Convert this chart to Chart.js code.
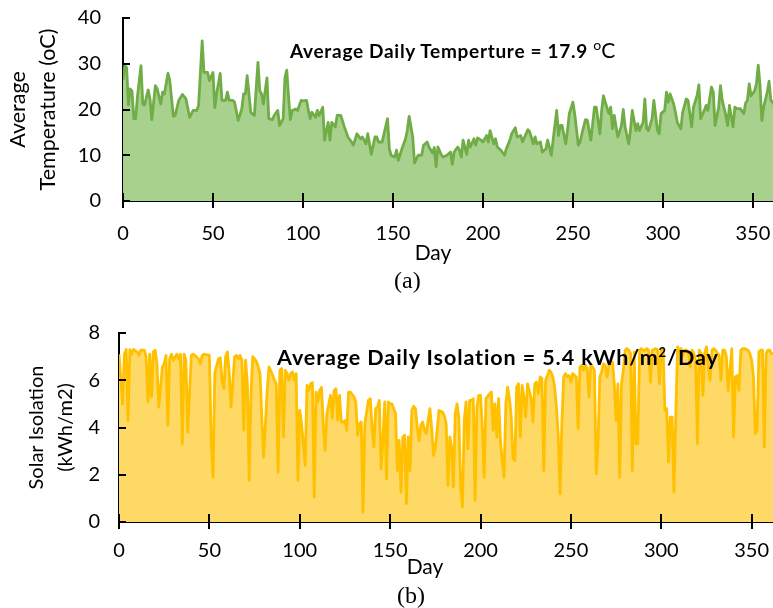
<!DOCTYPE html>
<html>
<head>
<meta charset="utf-8">
<script src="https://cdn.jsdelivr.net/npm/chart.js@4.4.1/dist/chart.umd.min.js"></script>
<style>
  body { margin: 0; background: #fff; }
  #page { position: relative; width: 773px; height: 608px; overflow: hidden; font-family: Lato, sans-serif; }
  canvas { position: absolute; left: 0; }
  .note { position: absolute; white-space: nowrap; font-weight: bold; line-height: 1; color: #000; }
  .cap { position: absolute; font-family: "Liberation Serif", serif; font-size: 24px; line-height: 1; color: #000; }
  .day { position: absolute; font-size: 21px; line-height: 1; color: #000; transform: translateX(-50%); }
</style>
</head>
<body>
<div id="page">
  <canvas id="chartA" width="773" height="265" style="top:0"></canvas>
  <canvas id="chartB" width="773" height="285" style="top:300px"></canvas>
  <div class="note" style="left:290px; top:37.5px; font-size:19px; letter-spacing:0.7px">Average Daily Temperture = 17.9 <span style="font-weight:normal; font-size:21px; letter-spacing:0"><sup style="font-size:14px">o</sup>C</span></div>
  <div class="note" style="left:277px; top:346px; font-size:21.5px; letter-spacing:0.9px">Average Daily Isolation = 5.4 kWh/m<sup style="font-size:13px">2</sup>/Day</div>
  <div class="day" style="left:433px; top:241px">Day</div>
  <div class="day" style="left:425px; top:555px">Day</div>
  <div class="cap" style="left:394px; top:268px">(a)</div>
  <div class="cap" style="left:397px; top:583px">(b)</div>
</div>
<script>
// (a) average daily temperature
const tempDays = [0, 1, 2, 3, 4, 5, 6, 7, 8, 10, 11, 12, 14, 15, 16, 18, 19, 21, 22, 23, 25, 26, 28, 29, 31, 33, 35, 37, 39, 41, 42, 44, 45, 47, 48, 50, 51, 52, 54, 55, 57, 58, 59, 61, 62, 64, 66, 67, 68, 69, 71, 72, 73, 75, 76, 77, 78, 80, 81, 83, 84, 86, 87, 89, 90, 91, 92, 93, 94, 95, 96, 97, 99, 100, 102, 103, 104, 105, 107, 108, 109, 111, 112, 114, 115, 116, 118, 119, 121, 123, 125, 127, 128, 130, 132, 133, 135, 136, 138, 140, 141, 142, 144, 147, 148, 149, 151, 152, 153, 155, 157, 158, 159, 161, 162, 164, 166, 167, 169, 170, 172, 173, 174, 175, 177, 178, 180, 182, 183, 184, 186, 187, 188, 189, 191, 192, 193, 195, 196, 197, 199, 200, 202, 203, 204, 206, 207, 208, 210, 212, 213, 215, 216, 218, 219, 221, 222, 223, 225, 226, 228, 229, 230, 232, 233, 235, 236, 238, 239, 241, 242, 243, 244, 246, 247, 248, 250, 251, 253, 254, 255, 257, 258, 260, 262, 263, 265, 266, 267, 268, 270, 271, 272, 273, 274, 275, 277, 278, 279, 281, 282, 283, 285, 286, 287, 289, 290, 291, 292, 294, 295, 297, 298, 299, 301, 302, 303, 304, 306, 307, 308, 310, 311, 313, 314, 316, 317, 319, 320, 321, 323, 324, 325, 327, 328, 329, 331, 332, 333, 335, 336, 337, 339, 340, 341, 343, 345, 346, 347, 348, 349, 351, 352, 353, 354, 355, 356, 358, 359, 360, 361, 362];
const tempValues = [26.5, 29.6, 29.2, 21, 24.5, 24, 18, 18, 22.7, 29.6, 21.2, 21, 24.3, 22.3, 17.8, 25.2, 24.5, 21.2, 23.8, 23.4, 27.9, 26.3, 18.5, 18.7, 22, 23.3, 22.3, 18.3, 19.8, 19.8, 20.9, 35, 28.1, 28.1, 26.3, 28.1, 20.4, 23.4, 27.9, 22, 22, 23.8, 22, 22, 21.6, 17.6, 20.1, 23.4, 23.4, 27.4, 19.4, 19, 18.7, 30.3, 24.1, 23.4, 21.2, 26.9, 18, 17.8, 18.7, 19.8, 16.5, 18, 27, 28.6, 22.7, 17.8, 19.8, 19.9, 20.1, 19.8, 22, 21.9, 22, 19.8, 18, 19.4, 18.3, 19.8, 18.7, 20.5, 13.3, 17.2, 13.3, 17.2, 16.2, 18.7, 18.7, 16.2, 14, 12.9, 12.2, 14.7, 13.6, 14, 12.5, 14.7, 10.2, 14, 14, 12.9, 12.9, 18, 11.4, 10, 9.6, 11.1, 8.9, 11.4, 13.6, 15.4, 18.5, 14, 8.3, 10, 10, 12.2, 12.9, 11.8, 10.5, 11.7, 7.5, 11.8, 10, 9.6, 10, 10.7, 8, 10.7, 11.8, 11.1, 9.6, 13.3, 10.2, 13.3, 11.8, 13.6, 12.2, 13.8, 13.3, 12.9, 14.3, 12.9, 15.4, 12.5, 13.6, 11.8, 11.1, 10, 11.4, 13.3, 14.7, 16, 14, 14.3, 12.9, 13.8, 15.6, 15.1, 12.5, 14, 12.5, 12.9, 10.7, 11.4, 13.3, 10, 13.3, 19.8, 14.3, 16.5, 16.5, 12.5, 15.4, 19.1, 21.6, 19.1, 12.2, 12.9, 14.7, 17.8, 17.7, 13.3, 20.5, 20.5, 14.7, 19.8, 23, 21.6, 19.1, 20.5, 15.8, 18.7, 16.2, 14, 16.5, 20, 16.2, 12.5, 15.4, 19.8, 15.4, 16.9, 15.4, 17.2, 22.3, 15.8, 15.4, 18, 22, 15.4, 14.7, 19.1, 19.8, 23.8, 21.6, 23.4, 21.2, 19.4, 17.2, 15.8, 19.4, 22.3, 22, 16.2, 20.5, 23, 25.4, 18, 19.8, 20.9, 19.8, 24.9, 23.8, 16.5, 20.5, 25.2, 22, 18.7, 16.5, 20.9, 16.2, 20.5, 20.2, 20.2, 19.1, 21.4, 22, 25.6, 23, 24.1, 25.6, 29.7, 25.2, 17.6, 20.5, 23.8, 26.2, 22, 21.6, 21];

// (b) daily solar isolation, kWh/m2
const solarDays = [0, 2, 3, 4, 5, 6, 7, 8, 10, 11, 12, 14, 15, 16, 17, 18, 19, 20, 21, 22, 24, 25, 26, 27, 28, 29, 30, 32, 33, 34, 35, 36, 37, 38, 40, 41, 42, 44, 45, 46, 47, 49, 50, 51, 52, 53, 55, 56, 57, 58, 59, 60, 61, 62, 64, 65, 66, 67, 68, 69, 70, 71, 72, 73, 74, 76, 77, 78, 79, 80, 82, 83, 84, 86, 87, 88, 89, 90, 91, 92, 93, 94, 95, 96, 97, 98, 99, 100, 101, 103, 104, 105, 106, 107, 108, 109, 110, 111, 112, 113, 114, 115, 117, 118, 119, 120, 121, 122, 123, 124, 125, 126, 127, 128, 130, 131, 132, 133, 134, 135, 136, 138, 139, 140, 141, 142, 143, 144, 145, 146, 147, 148, 149, 150, 151, 153, 154, 155, 156, 157, 158, 159, 160, 161, 162, 163, 164, 165, 166, 167, 168, 169, 170, 171, 172, 173, 174, 175, 176, 177, 179, 180, 181, 182, 183, 184, 185, 186, 187, 188, 189, 190, 191, 192, 193, 194, 195, 196, 197, 198, 199, 200, 201, 202, 203, 205, 206, 207, 208, 209, 210, 211, 212, 213, 214, 215, 216, 217, 218, 219, 220, 221, 222, 223, 224, 225, 226, 228, 229, 230, 231, 232, 233, 234, 235, 236, 237, 238, 239, 240, 241, 242, 243, 244, 245, 246, 247, 248, 249, 250, 251, 253, 254, 255, 256, 257, 258, 259, 260, 261, 262, 263, 264, 265, 266, 267, 268, 269, 270, 271, 272, 273, 274, 275, 276, 277, 278, 279, 280, 281, 282, 283, 284, 285, 286, 287, 288, 289, 290, 291, 292, 293, 294, 295, 297, 298, 299, 300, 301, 302, 303, 304, 305, 306, 307, 308, 309, 310, 311, 312, 313, 314, 315, 316, 317, 318, 319, 320, 321, 322, 323, 324, 325, 326, 327, 328, 329, 330, 332, 333, 334, 335, 336, 337, 338, 339, 340, 341, 342, 343, 344, 345, 346, 348, 349, 350, 351, 352, 353, 354, 355, 356, 357, 358, 359, 360, 361, 362];
const solarValues = [7.1, 5.0, 7.1, 7.3, 4.3, 7.3, 7.1, 7.3, 7.2, 7.05, 7.27, 7.27, 7.0, 5.08, 7.1, 5.3, 7.2, 7.27, 6.7, 4.86, 6.56, 6.7, 7.05, 4.1, 6.9, 7.1, 6.85, 7.1, 6.9, 7.1, 3.3, 7.1, 6.85, 3.8, 7.05, 7.1, 7.05, 6.9, 6.7, 7.05, 7.1, 7.07, 7.05, 3.45, 1.9, 6.3, 6.9, 6.95, 6.0, 5.65, 7.0, 7.2, 6.3, 4.86, 7.0, 7.05, 6.9, 7.05, 6.85, 3.88, 6.85, 5.9, 1.76, 5.43, 7.0, 6.8, 6.56, 6.3, 4.44, 2.75, 5.57, 6.56, 6.4, 6.0, 5.85, 2.1, 6.42, 6.5, 3.6, 6.42, 6.28, 6.0, 6.28, 6.35, 6.0, 6.28, 1.76, 4.72, 4.16, 2.4, 5.78, 5.57, 5.85, 5.9, 1.05, 5.5, 5.08, 5.57, 5.7, 4.16, 3.03, 4.58, 5.36, 4.4, 5.57, 5.64, 4.3, 5.36, 4.23, 4.23, 4.3, 3.88, 5.5, 5.5, 5.29, 5.08, 3.67, 4.16, 4.23, 0.42, 4.16, 5.15, 5.22, 4.02, 3.17, 4.8, 4.86, 5.15, 2.25, 3.45, 5.08, 1.83, 5.08, 5.0, 5.0, 4.58, 2.18, 3.45, 1.26, 3.6, 3.67, 0.77, 3.6, 2.18, 4.72, 4.9, 4.8, 4.02, 3.45, 4.1, 4.23, 3.88, 3.74, 4.3, 4.8, 3.95, 2.82, 3.17, 3.88, 4.72, 4.65, 4.5, 4.16, 1.55, 3.6, 3.17, 1.48, 4.58, 5.0, 4.44, 1.48, 0.63, 4.3, 5.08, 3.1, 5.15, 5.15, 5.22, 0.91, 4.86, 5.36, 5.36, 4.02, 1.9, 5.22, 5.43, 5.5, 3.88, 5.0, 3.6, 5.22, 3.45, 2.6, 1.9, 5.0, 5.71, 5.22, 4.44, 2.68, 2.6, 5.71, 5.85, 3.6, 5.78, 5.29, 4.44, 5.85, 5.22, 4.23, 5.85, 5.92, 5.43, 6.14, 6.07, 2.18, 6.0, 6.2, 6.42, 6.35, 6.14, 5.71, 4.86, 3.67, 1.19, 4.16, 6.14, 6.28, 6.14, 6.2, 5.92, 6.28, 6.14, 3.95, 6.56, 6.63, 6.42, 6.63, 6.5, 5.29, 6.63, 6.56, 6.42, 2.04, 3.31, 6.14, 6.35, 6.7, 6.63, 6.14, 6.63, 6.7, 6.77, 5.85, 4.3, 5.85, 1.9, 5.85, 6.42, 7.27, 7.34, 7.27, 7.13, 2.18, 7.2, 3.31, 3.31, 7.27, 7.34, 7.27, 7.27, 7.34, 7.27, 5.92, 7.27, 7.34, 7.27, 5.85, 7.27, 7.34, 4.72, 4.8, 2.54, 4.44, 4.44, 1.26, 4.44, 7.41, 7.27, 7.34, 7.05, 7.27, 7.27, 7.13, 6.56, 7.27, 7.13, 6.84, 3.31, 7.27, 7.13, 5.36, 7.13, 7.41, 6.63, 6.0, 7.27, 7.34, 7.27, 7.05, 6.0, 7.27, 7.27, 7.0, 5.57, 6.42, 7.34, 3.6, 6.14, 6.2, 5.57, 7.27, 7.34, 7.34, 7.27, 7.13, 6.84, 6.14, 3.74, 3.88, 7.2, 7.27, 7.27, 3.17, 7.13, 7.27, 7.27, 7.13, 7.13];

// short black tick marks: x ticks cross the axis, y ticks point inwards
const axisMarks = {
  id: 'axisMarks',
  afterDraw(chart) {
    const {ctx, chartArea, scales} = chart;
    ctx.save();
    ctx.strokeStyle = '#000';
    ctx.lineWidth = 2;
    ctx.beginPath();
    scales.x.ticks.forEach((t, i) => {
      const px = Math.round(scales.x.getPixelForTick(i));
      ctx.moveTo(px, chartArea.bottom - 8);
      ctx.lineTo(px, chartArea.bottom + 7);
    });
    scales.y.ticks.forEach((t, i) => {
      const py = Math.round(scales.y.getPixelForTick(i));
      ctx.moveTo(chartArea.left, py);
      ctx.lineTo(chartArea.left + 7, py);
    });
    ctx.stroke();
    ctx.restore();
  }
};

function makePanel(id, days, values, p) {
  const tickFont = {family: 'Lato', size: 20};
  return new Chart(document.getElementById(id), {
    type: 'line',
    data: {
      datasets: [{
        data: days.map((d, i) => ({x: d, y: values[i]})),
        borderColor: p.line,
        backgroundColor: p.fill,
        borderWidth: 2.8,
        borderJoinStyle: 'round',
        fill: 'origin',
        pointRadius: 0,
        tension: 0,
        clip: {left: 0, top: 2, right: 2, bottom: 0}
      }]
    },
    options: {
      responsive: false,
      animation: false,
      devicePixelRatio: 1,
      layout: {padding: {top: p.top, left: 0, right: 0, bottom: 0}},
      plugins: {legend: {display: false}, tooltip: {enabled: false}},
      scales: {
        x: {
          type: 'linear', min: 0, max: p.xMax, z: 1,
          grid: {display: false, drawTicks: false},
          border: {display: true, color: '#000', width: 2},
          ticks: {stepSize: 50, includeBounds: false, padding: p.xPad, color: '#000', font: tickFont, maxRotation: 0},
          afterFit(s) { s.height = p.xH; s.paddingLeft = 0; s.paddingRight = 0; }
        },
        y: {
          min: 0, max: p.yMax, z: 1,
          grid: {display: false, drawTicks: false},
          border: {display: true, color: '#000', width: 2},
          ticks: {stepSize: p.yStep, padding: p.yPad, color: '#000', font: tickFont},
          title: {display: true, text: p.title, color: '#000', font: {family: 'Lato', size: p.titleSize, lineHeight: p.titleLH}, padding: {top: p.titlePad, bottom: 0}},
          afterFit(s) { s.width = p.yW; s.paddingTop = 0; s.paddingBottom = 0; }
        }
      }
    },
    plugins: [axisMarks]
  });
}

makePanel('chartA', tempDays, tempValues, {
  line: '#70AD47', fill: '#A9D18E', top: 18, xH: 64, yW: 123, xMax: 361.2,
  yMax: 40, yStep: 10, xPad: 21, yPad: 22,
  titleSize: 21.5, titleLH: 1.4, titlePad: 3, title: ['Average', 'Temperature (oC)']
});
makePanel('chartB', solarDays, solarValues, {
  line: '#FFC000', fill: '#FFD966', top: 33, xH: 63, yW: 119, xMax: 361.8,
  yMax: 8, yStep: 2, xPad: 17, yPad: 19,
  titleSize: 20, titleLH: 1.45, titlePad: 22, title: ['Solar Isolation', '(kWh/m2)']
});
</script>
</body>
</html>
